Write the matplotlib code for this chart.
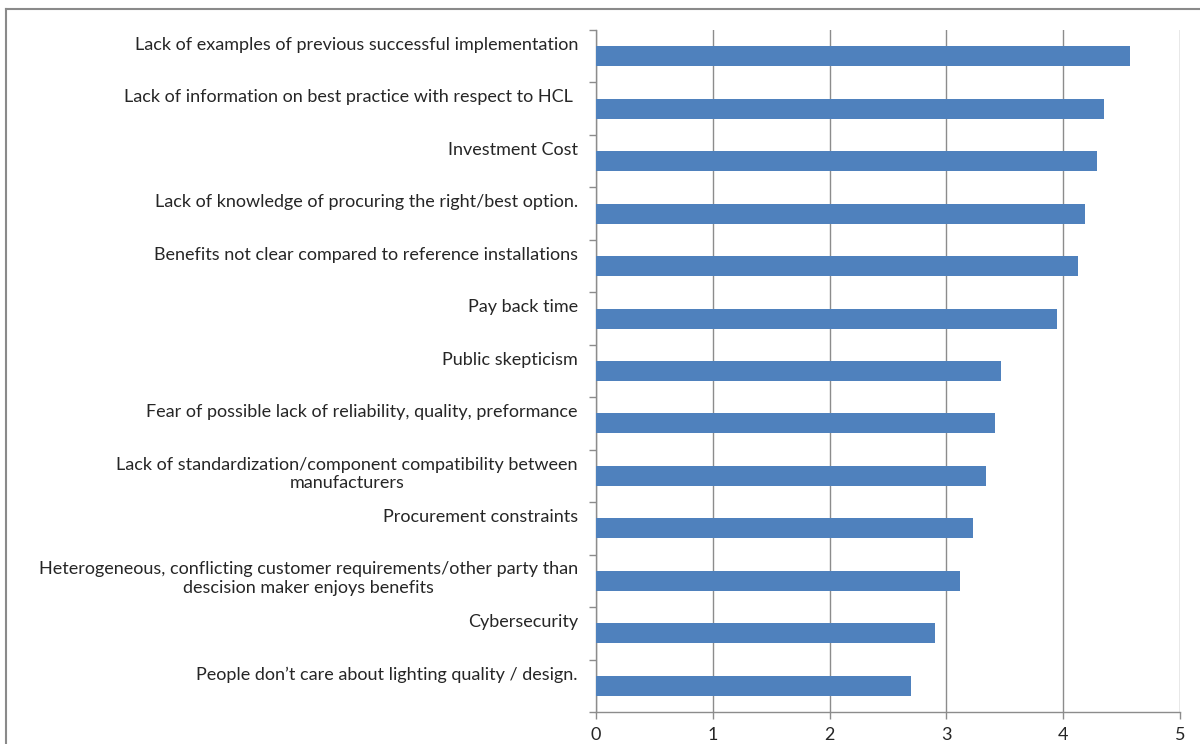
import matplotlib
matplotlib.use("Agg")
import matplotlib.pyplot as plt
from matplotlib.transforms import offset_copy
from matplotlib.lines import Line2D
import numpy as np

categories = [
    "Lack of examples of previous successful implementation",
    "Lack of information on best practice with respect to HCL ",
    "Investment Cost",
    "Lack of knowledge of procuring the right/best option.",
    "Benefits not clear compared to reference installations",
    "Pay back time",
    "Public skepticism",
    "Fear of possible lack of reliability, quality, preformance",
    "Lack of standardization/component compatibility between\nmanufacturers",
    "Procurement constraints",
    "Heterogeneous, conflicting customer requirements/other party than\ndescision maker enjoys benefits",
    "Cybersecurity",
    "People don\u2019t care about lighting quality / design.",
]
values = [4.57, 4.35, 4.29, 4.19, 4.13, 3.95, 3.47, 3.42, 3.34, 3.23, 3.12, 2.90, 2.70]
xticks = [0, 1, 2, 3, 4, 5]

W, H = 1200, 744
fig = plt.figure(figsize=(12, 7.44), dpi=100)
plt.rcParams['font.family'] = ['Lato', 'DejaVu Sans']
FS = 13
TXT = '#262626'
GRID = '#8c8c8c'

ax = fig.add_axes([596 / W, 32 / H, 584 / W, 682 / H])
idx = np.arange(len(categories))
ax.barh(idx, values, height=0.38, color='#4F81BD', zorder=3)
ax.set_xlim(0, 5)
ax.set_ylim(len(categories) - 0.5, -0.5)
ax.set_xticks(xticks)
ax.set_xticklabels([str(t) for t in xticks], fontsize=FS, color=TXT)
ax.xaxis.grid(True, color=GRID, lw=1.0, zorder=0)
ax.set_yticks(np.arange(-0.5, len(categories), 1.0))
ax.set_yticklabels([])
ax.tick_params(axis='y', length=5, width=1, color=GRID, direction='out')
ax.tick_params(axis='x', length=5, width=1, color=GRID, direction='out', pad=6)
for s in ['top', 'right']:
    ax.spines[s].set_visible(False)
for s in ['left', 'bottom']:
    ax.spines[s].set_color(GRID)
    ax.spines[s].set_linewidth(1.0)

tr = offset_copy(ax.get_yaxis_transform(), fig=fig, x=-18, y=0, units='dots')
for i, lab in enumerate(categories):
    ax.text(0, i - 0.37, lab, transform=tr, ha='right', va='top',
            multialignment='center', fontsize=FS, color=TXT, linespacing=1.2)

# outer frame (top and left edges visible)
fig.add_artist(Line2D([6 / W, 6 / W], [0, 1 - 9 / H], transform=fig.transFigure,
                      color='#8a8a8a', lw=1.5))
fig.add_artist(Line2D([6 / W, 1], [1 - 9 / H, 1 - 9 / H], transform=fig.transFigure,
                      color='#8a8a8a', lw=1.5))

fig.savefig('out.png', dpi=100, facecolor='white')
